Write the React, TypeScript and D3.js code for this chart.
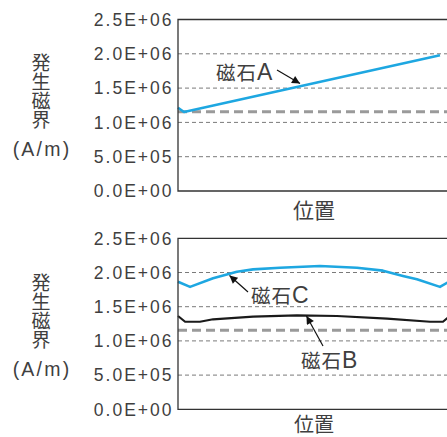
import React from "react";
import * as d3 from "d3";

const yTicks = [0, 500000, 1000000, 1500000, 2000000, 2500000];
const yTickLabels = ["0.0E+00", "5.0E+05", "1.0E+06", "1.5E+06", "2.0E+06", "2.5E+06"];
const refLevel = 1155000;

const posA = [0, 2.2, 95.6];
const valA = [1214000, 1152000, 1980000];

const posB = [0, 2.6, 8, 12.8, 27.4, 43.4, 58, 76.3, 92, 96.7, 98.2, 100];
const valB = [1364000, 1280000, 1280000, 1316000, 1354000, 1374000, 1364000, 1325000, 1280000, 1280000, 1330000, 1364000];

const posC = [0, 4.4, 12.8, 21.5, 27.4, 37.2, 51.8, 65.3, 74.8, 82.1, 87.2, 95.6, 98.2, 100];
const valC = [1865000, 1790000, 1915000, 2010000, 2046000, 2070000, 2095000, 2070000, 2027000, 1950000, 1900000, 1790000, 1850000, 1900000];

const CJK = "'Noto Sans CJK JP', 'Noto Sans', sans-serif";
const LAT = "'Liberation Sans', Arial, sans-serif";
const TXT = "#3f3f3f";
const BLUE = "#1ea7e1";

type Panel = { top: number; bottom: number; series: { pos: number[]; val: number[]; color: string; w: number }[] };

export default function App() {
  const x = d3.scaleLinear().domain([0, 100]).range([178, 452]);
  const panels: Panel[] = [
    { top: 19.5, bottom: 191, series: [{ pos: posA, val: valA, color: BLUE, w: 2.6 }] },
    {
      top: 238.3,
      bottom: 409.3,
      series: [
        { pos: posC, val: valC, color: BLUE, w: 2.6 },
        { pos: posB, val: valB, color: "#1a1a1a", w: 2.2 },
      ],
    },
  ];
  const annots = [
    { text: "磁石", latin: "A", tx: 216, ty: 80, x1: 277, y1: 70, x2: 300, y2: 83.5 },
    { text: "磁石", latin: "C", tx: 251, ty: 302.5, x1: 248, y1: 292, x2: 229.5, y2: 275.5 },
    { text: "磁石", latin: "B", tx: 301, ty: 368, x1: 323, y1: 346, x2: 306.5, y2: 316 },
  ];
  const xLabelY = [218, 432];
  return (
    <svg
      width={447}
      height={437}
      style={{ position: "absolute", left: 0, top: 0, background: "#fff" }}
      fontFamily={CJK}
    >
      <defs>
        <marker id="ah" viewBox="0 0 10 10" refX="10" refY="5" markerWidth="11" markerHeight="8" markerUnits="userSpaceOnUse" orient="auto">
          <path d="M0,0 L10,5 L0,10 z" fill="#111" />
        </marker>
      </defs>
      {panels.map((p, pi) => {
        const y = d3.scaleLinear().domain([0, 2500000]).range([p.bottom, p.top]);
        const off = pi === 0 ? 0 : 220;
        return (
          <g key={pi}>
            {yTicks.slice(1, 5).map((t) => (
              <line key={t} x1={178} x2={447} y1={y(t)} y2={y(t)} stroke="#7a7a7a" strokeWidth={1} strokeDasharray="4,3" />
            ))}
            <line x1={178} x2={447} y1={y(refLevel)} y2={y(refLevel)} stroke="#9a9a9a" strokeWidth={3} strokeDasharray="9,5" />
            {p.series.map((s, si) => {
              const pts: [number, number][] = s.pos.map((v, i) => [x(v), y(s.val[i])]);
              const d = d3.line()(pts) || "";
              return <path key={si} d={d} fill="none" stroke={s.color} strokeWidth={s.w} strokeLinejoin="round" />;
            })}
            <path d={`M447,${p.top}H178V${p.bottom}H447`} fill="none" stroke="#333" strokeWidth={1.3} />
            {yTicks.map((t, i) => (
              <text key={t} x={173.5} y={y(t)} dy="0.36em" textAnchor="end" fontSize={17.5} fill={TXT} letterSpacing={2} fontFamily={LAT}>
                {yTickLabels[i]}
              </text>
            ))}
            <text x={41} y={off + 53} fontSize={19} fill={TXT} style={{ writingMode: "vertical-rl" } as any}>
              発生磁界
            </text>
            <text x={42} y={off + 155.5} textAnchor="middle" fontSize={19.5} fill={TXT} letterSpacing={2.2} fontFamily={LAT}>
              (A/m)
            </text>
            <text x={314} y={xLabelY[pi]} textAnchor="middle" fontSize={pi === 0 ? 21 : 20} fill={TXT}>
              位置
            </text>
          </g>
        );
      })}
      {annots.map((a, i) => (
        <g key={i}>
          <text x={a.tx} y={a.ty} fontSize={19.5} fill={TXT} letterSpacing={1}>
            {a.text}
            <tspan fontFamily={LAT} fontSize={23}>{a.latin}</tspan>
          </text>
          <line x1={a.x1} y1={a.y1} x2={a.x2} y2={a.y2} stroke="#111" strokeWidth={1.2} markerEnd="url(#ah)" />
        </g>
      ))}
    </svg>
  );
}
